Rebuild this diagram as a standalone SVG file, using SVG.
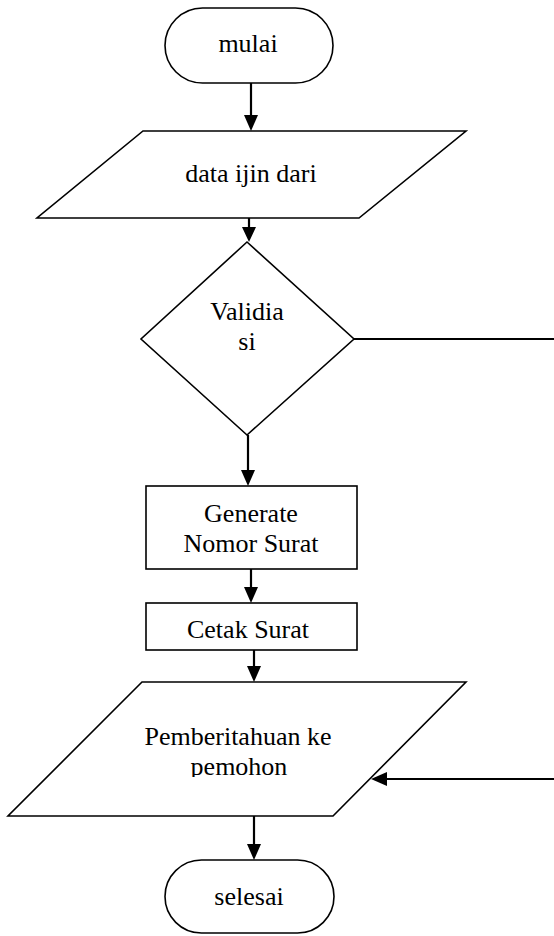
<svg xmlns="http://www.w3.org/2000/svg" width="554" height="936" viewBox="0 0 554 936">
<defs>
<style>
.shape{fill:#fff;stroke:#000;stroke-width:1.6}
.conn{fill:none;stroke:#000;stroke-width:2.2}
.lbl{font-family:"Liberation Serif","Times New Roman",serif;font-size:26px;fill:#000;text-anchor:middle}
</style>
<marker id="arr" viewBox="0 0 10 10" refX="10" refY="5" markerWidth="6.5" markerHeight="6.5" markerUnits="userSpaceOnUse" orient="auto">
<path d="M0,0 L10,5 L0,10 z" fill="#000"/>
</marker>
<clipPath id="clipP"><rect x="0" y="682" width="554" height="95"/></clipPath>
</defs>
<rect width="554" height="936" fill="#fff"/>
<g id="connectors">
<line class="conn" x1="251" y1="83" x2="251" y2="116"/>
<polygon points="244,115 258,115 251,131" fill="#000"/>
<line class="conn" x1="249" y1="218" x2="249" y2="228"/>
<polygon points="242,227 256,227 249,242" fill="#000"/>
<line class="conn" x1="248" y1="435" x2="248" y2="471"/>
<polygon points="241,470 255,470 248,486" fill="#000"/>
<line class="conn" x1="251" y1="569" x2="251" y2="588"/>
<polygon points="244,587 258,587 251,603" fill="#000"/>
<line class="conn" x1="254" y1="650" x2="254" y2="667"/>
<polygon points="247,666 261,666 254,682" fill="#000"/>
<line class="conn" x1="254" y1="816" x2="254" y2="845"/>
<polygon points="247,844 261,844 254,860" fill="#000"/>
<line class="conn" x1="354" y1="339" x2="554" y2="339"/>
<line class="conn" x1="554" y1="779" x2="386" y2="779"/>
<polygon points="387,772 387,786 371,779" fill="#000"/>
</g>
<g id="mulai">
<rect class="shape" x="165" y="8" width="168" height="75" rx="37.5" ry="37.5"/>
<text class="lbl" x="248" y="52">mulai</text>
</g>
<g id="data">
<polygon class="shape" points="143,131 466,131 359,218 37,218"/>
<text class="lbl" x="251" y="182">data ijin dari</text>
</g>
<g id="validasi">
<polygon class="shape" points="247,242 354,339 247,435 141,339"/>
<text class="lbl" x="247" y="320">Validia</text>
<text class="lbl" x="247" y="350">si</text>
</g>
<g id="generate">
<rect class="shape" x="146" y="486" width="211" height="83"/>
<text class="lbl" x="251" y="522">Generate</text>
<text class="lbl" x="251" y="552">Nomor Surat</text>
</g>
<g id="cetak">
<rect class="shape" x="146" y="603" width="211" height="47"/>
<text class="lbl" x="248" y="638">Cetak Surat</text>
</g>
<g id="pemberitahuan">
<polygon class="shape" points="142,682 466,682 333,816 8,816"/>
<g clip-path="url(#clipP)">
<text class="lbl" x="238" y="745">Pemberitahuan ke</text>
<text class="lbl" x="239" y="775">pemohon</text>
</g>
</g>
<g id="selesai">
<rect class="shape" x="165" y="860" width="169" height="73" rx="36.5" ry="36.5"/>
<text class="lbl" x="249" y="905">selesai</text>
</g>
</svg>
